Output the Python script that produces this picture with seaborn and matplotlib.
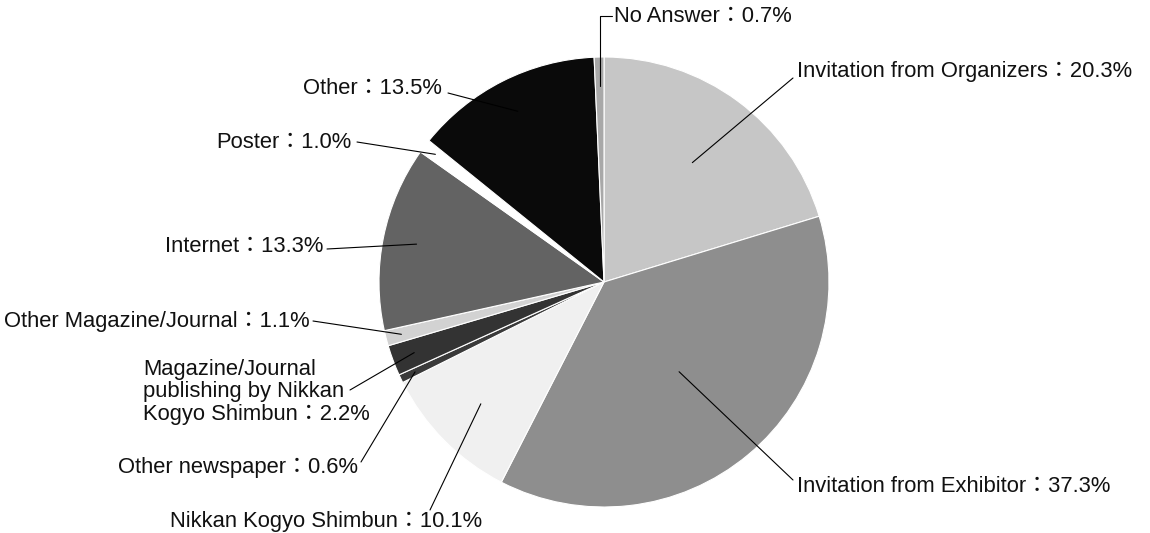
import numpy as np
import matplotlib
matplotlib.use("Agg")
import matplotlib.pyplot as plt
import seaborn as sns

# survey answers, clockwise from 12 o'clock
labels = [
    "Invitation from Organizers：20.3%",
    "Invitation from Exhibitor：37.3%",
    "Nikkan Kogyo Shimbun：10.1%",
    "Other newspaper：0.6%",
    "Magazine/Journal\npublishing by Nikkan\nKogyo Shimbun：2.2%",
    "Other Magazine/Journal：1.1%",
    "Internet：13.3%",
    "Poster：1.0%",
    "Other：13.5%",
    "No Answer：0.7%",
]
values = [20.3, 37.3, 10.1, 0.6, 2.2, 1.1, 13.3, 1.0, 13.5, 0.7]

# grey levels standing in for the halftone screens
colors = ["#c6c6c6", "#8e8e8e", "#f0f0f0", "#3a3a3a", "#333333",
          "#d2d2d2", "#636363", "#ffffff", "#0a0a0a", "#a8a8a8"]

# layout (image pixels, y down): text position, alignment, where the leader line meets the text,
# and how far into the wedge the leader line reaches
text_xy = [(797, 71), (797, 487), (326, 522), (358, 467), (143, 392),
           (310, 322), (323, 247), (352, 142), (442, 88), (614, 16)]
text_ha = ["left", "left", "center", "right", "left",
           "right", "right", "right", "right", "left"]
line_end = [(793, 78), (793, 480), (430, 510), (361, 462), (350, 390),
            (313, 321), (327, 249), (357, 142), (448, 93), None]
reach = [0.66, 0.52, 0.77, 0.93, 0.9, 0.93, 0.85, 0.94, 0.85, 0.87]

W, H = 1150, 533
CX, CY, R = 604, 282, 225

sns.set_style("white")
plt.rcParams["font.family"] = ["Liberation Sans", "Noto Sans CJK JP", "DejaVu Sans"]

fig = plt.figure(figsize=(W / 100, H / 100), dpi=100)
ax = fig.add_axes([0, 0, 1, 1])

wedges, _ = ax.pie(values, colors=colors, startangle=90, counterclock=False,
                   center=(CX, H - CY), radius=R,
                   wedgeprops=dict(edgecolor="white", linewidth=0.8))

ax.set_xlim(0, W)
ax.set_ylim(0, H)
ax.set_aspect("equal")
ax.axis("off")

fs = 15.8
for w, lab, (tx, ty), ha, le, fr in zip(wedges, labels, text_xy, text_ha, line_end, reach):
    mid = np.deg2rad((w.theta1 + w.theta2) / 2)
    px = CX + fr * R * np.cos(mid)
    py = (H - CY) + fr * R * np.sin(mid)
    if le is None:
        # elbow leader: straight up, then across to the text
        ax.plot([px, px, tx - 2], [py, H - ty, H - ty], color="black", lw=0.8)
    else:
        ax.plot([px, le[0]], [py, H - le[1]], color="black", lw=0.8)
    ax.text(tx, H - ty, lab, ha=ha, va="center", fontsize=fs, color="#111111",
            linespacing=1.12)

fig.savefig("out.png", dpi=100, facecolor="white")
